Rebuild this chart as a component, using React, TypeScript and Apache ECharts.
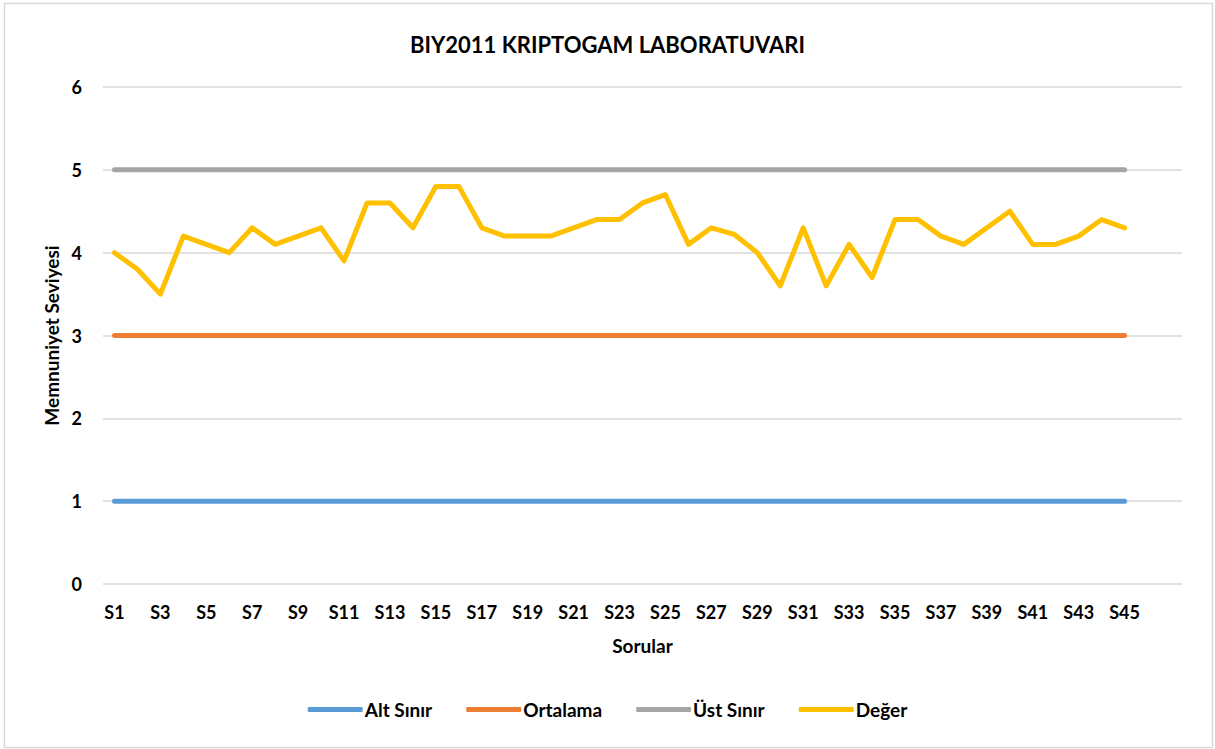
import React, { useEffect, useRef } from "react";
import * as echarts from "echarts";

const categories: string[] = [
  "S1","S2","S3","S4","S5","S6","S7","S8","S9","S10",
  "S11","S12","S13","S14","S15","S16","S17","S18","S19","S20",
  "S21","S22","S23","S24","S25","S26","S27","S28","S29","S30",
  "S31","S32","S33","S34","S35","S36","S37","S38","S39","S40",
  "S41","S42","S43","S44","S45","",""
];

const altSinir: number[] = Array(45).fill(1);
const ortalama: number[] = Array(45).fill(3);
const ustSinir: number[] = Array(45).fill(5);
const deger: number[] = [
  4.0, 3.8, 3.5, 4.2, 4.1, 4.0, 4.3, 4.1, 4.2, 4.3,
  3.9, 4.6, 4.6, 4.3, 4.8, 4.8, 4.3, 4.2, 4.2, 4.2,
  4.3, 4.4, 4.4, 4.6, 4.7, 4.1, 4.3, 4.22, 4.0, 3.6,
  4.3, 3.6, 4.1, 3.7, 4.4, 4.4, 4.2, 4.1, 4.3, 4.5,
  4.1, 4.1, 4.2, 4.4, 4.3
];

const seriesNames = ["Alt Sınır", "Ortalama", "Üst Sınır", "Değer"];
const colors = ["#5B9BD5", "#ED7D31", "#A5A5A5", "#FFC000"];

export default function App() {
  const ref = useRef<HTMLDivElement>(null);
  useEffect(() => {
    if (!ref.current) return;
    const chart = echarts.init(ref.current, null, { renderer: "svg" });
    const font = "Lato, 'Open Sans', sans-serif";
    const mk = (name: string, data: number[], color: string, width: number) => ({
      name,
      type: "line",
      data,
      symbol: "none",
      lineStyle: { color, width, cap: "round", join: "round" },
      itemStyle: { color },
    });
    chart.setOption({
      animation: false,
      backgroundColor: "#ffffff",
      color: colors,
      textStyle: { fontFamily: font },
      title: {
        text: "BIY2011 KRIPTOGAM LABORATUVARI",
        left: "center",
        top: 28,
        textStyle: { fontFamily: font, fontWeight: "bold", fontSize: 22, color: "#000" },
      },
      grid: { left: 103, right: 33, top: 87, bottom: 165, containLabel: false },
      legend: {
        bottom: 25,
        left: "center",
        itemWidth: 55,
        itemHeight: 5,
        itemGap: 34,
        icon: "roundRect",
        textStyle: { fontFamily: font, fontWeight: "bold", fontSize: 19, color: "#000", padding: [0, 0, 0, -3] },
        data: seriesNames,
      },
      xAxis: {
        type: "category",
        data: categories,
        boundaryGap: true,
        name: "Sorular",
        nameLocation: "middle",
        nameGap: 52,
        nameTextStyle: { fontFamily: font, fontWeight: "bold", fontSize: 19, color: "#000" },
        axisLine: { show: false },
        axisTick: { show: false },
        axisLabel: {
          interval: 1,
          margin: 19,
          fontFamily: font,
          fontWeight: "bold",
          fontSize: 18,
          color: "#000",
        },
        splitLine: { show: false },
      },
      yAxis: {
        type: "value",
        min: 0,
        max: 6,
        interval: 1,
        name: "Memnuniyet Seviyesi",
        nameLocation: "middle",
        nameGap: 42,
        nameTextStyle: { fontFamily: font, fontWeight: "bold", fontSize: 19, color: "#000" },
        axisLine: { show: false },
        axisTick: { show: false },
        axisLabel: { margin: 21, fontFamily: font, fontWeight: "bold", fontSize: 18, color: "#000" },
        splitLine: { lineStyle: { color: "#D9D9D9", width: 1.5 } },
      },
      graphic: [
        {
          type: "rect",
          shape: { x: 4.5, y: 3.5, width: 1208, height: 744 },
          style: { fill: "none", stroke: "#D9D9D9", lineWidth: 1.5 },
          silent: true,
        },
      ],
      series: [
        mk(seriesNames[0], altSinir, colors[0], 5),
        mk(seriesNames[1], ortalama, colors[1], 5),
        mk(seriesNames[2], ustSinir, colors[2], 5),
        mk(seriesNames[3], deger, colors[3], 5),
      ],
    });
    return () => chart.dispose();
  }, []);
  return (
    <div
      ref={ref}
      style={{ position: "fixed", left: 0, top: 0, width: 1215, height: 749, background: "#fff" }}
    />
  );
}
